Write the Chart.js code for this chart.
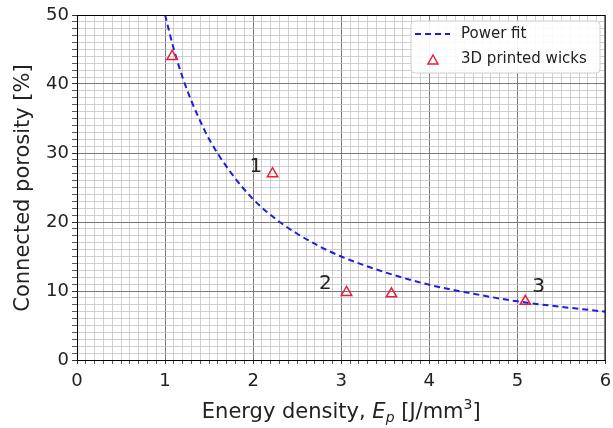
<!DOCTYPE html>
<html lang="en">
<head>
<meta charset="UTF-8">
<title>Connected porosity vs energy density</title>
<script src="https://cdn.jsdelivr.net/npm/chart.js"></script>
<style>
  body { margin: 0; background: #fff; }
  .wrap { position: relative; width: 613px; height: 428px; }
</style>
</head>
<body>
<div class="wrap"><canvas id="chart"></canvas></div>
<script>
// measured wicks
const wickEnergy = [1.08, 2.22, 3.06, 3.57, 5.09];
const wickPorosity = [44.0, 27.0, 9.8, 9.6, 8.5];

// power fit curve
const fitEnergy = [1.0, 1.1, 1.2, 1.3, 1.4, 1.5, 1.75, 2.0, 2.25, 2.5, 2.75, 3.0, 3.5, 4.0, 4.5, 5.0, 5.5, 6.0];
const fitPorosity = [50.0, 45.0, 40.9, 37.5, 34.6, 32.0, 27.1, 23.3, 20.5, 18.3, 16.5, 15.0, 12.7, 10.9, 9.6, 8.5, 7.7, 7.0];

// numbered labels
const noteText = ['1', '2', '3'];
const noteX = [2.03, 2.82, 5.24];
const noteY = [28.0, 11.0, 10.6];

const FONT = '"DejaVu Sans", sans-serif';
const BLUE = '#1e1ee0';
const RED = '#e8203c';

const isMajor = v => Math.abs(v - Math.round(v)) < 1e-6;

const extras = {
  id: 'extras',
  afterDraw(chart) {
    const { ctx, chartArea: a, scales: { x, y } } = chart;
    ctx.save();
    // top/right spines
    ctx.strokeStyle = '#000';
    ctx.lineWidth = 1;
    ctx.strokeRect(a.left + 0.5, a.top + 0.5, a.right - a.left - 1, a.bottom - a.top);

    // numbered labels
    ctx.fillStyle = '#222';
    ctx.font = '20px ' + FONT;
    ctx.textAlign = 'center';
    ctx.textBaseline = 'middle';
    noteText.forEach((t, i) => ctx.fillText(t, x.getPixelForValue(noteX[i]), y.getPixelForValue(noteY[i])));

    // legend box
    const lx = 411, ly = 21, lw = 189, lh = 52;
    ctx.beginPath();
    ctx.roundRect(lx, ly, lw, lh, 4);
    ctx.fillStyle = 'rgba(255,255,255,0.9)';
    ctx.fill();
    ctx.strokeStyle = '#d0d0d0';
    ctx.stroke();
    ctx.strokeStyle = BLUE;
    ctx.lineWidth = 2;
    ctx.setLineDash([6, 4]);
    ctx.beginPath();
    ctx.moveTo(415, 34); ctx.lineTo(450, 34);
    ctx.stroke();
    ctx.setLineDash([]);
    ctx.strokeStyle = RED;
    ctx.lineWidth = 1.5;
    ctx.beginPath();
    ctx.moveTo(433, 55); ctx.lineTo(438, 64); ctx.lineTo(428, 64); ctx.closePath();
    ctx.stroke();
    ctx.fillStyle = '#222';
    ctx.font = '15px ' + FONT;
    ctx.textAlign = 'left';
    ctx.fillText('Power fit', 461, 34);
    ctx.fillText('3D printed wicks', 461, 59);

    // y axis title
    ctx.save();
    ctx.translate(24, 188);
    ctx.rotate(-Math.PI / 2);
    ctx.font = '21px ' + FONT;
    ctx.textAlign = 'center';
    ctx.textBaseline = 'middle';
    ctx.fillText('Connected porosity [%]', 0, 0);
    ctx.restore();

    // x axis title with italic E_p and superscript
    const parts = [
      { t: 'Energy density, ', f: '21px ' + FONT, dy: 0 },
      { t: 'E', f: 'italic 21px ' + FONT, dy: 0 },
      { t: 'p', f: 'italic 14px ' + FONT, dy: 4 },
      { t: ' [J/mm', f: '21px ' + FONT, dy: 0 },
      { t: '3', f: '14px ' + FONT, dy: -9 },
      { t: ']', f: '21px ' + FONT, dy: 0 }
    ];
    let total = 0;
    parts.forEach(p => { ctx.font = p.f; p.w = ctx.measureText(p.t).width; total += p.w; });
    let cx = (a.left + a.right) / 2 - total / 2;
    ctx.textBaseline = 'alphabetic';
    ctx.textAlign = 'left';
    parts.forEach(p => { ctx.font = p.f; ctx.fillText(p.t, cx, 418 + p.dy); cx += p.w; });
    ctx.restore();
  }
};

new Chart(document.getElementById('chart'), {
  type: 'scatter',
  data: {
    datasets: [
      {
        label: '3D printed wicks',
        data: wickEnergy.map((e, i) => ({ x: e, y: wickPorosity[i] })),
        pointStyle: 'triangle',
        pointRadius: 6,
        pointBorderWidth: 1.5,
        borderColor: RED,
        backgroundColor: 'rgba(0,0,0,0)',
        order: 0
      },
      {
        label: 'Power fit',
        data: fitEnergy.map((e, i) => ({ x: e, y: fitPorosity[i] })),
        showLine: true,
        borderColor: BLUE,
        borderWidth: 2,
        borderDash: [6, 4],
        pointRadius: 0,
        cubicInterpolationMode: 'monotone',
        fill: false,
        order: 1
      }
    ]
  },
  plugins: [extras],
  options: {
    responsive: true,
    maintainAspectRatio: false,
    animation: false,
    layout: { padding: { left: 0, right: 5, top: 15, bottom: 0 } },
    plugins: { legend: { display: false }, tooltip: { enabled: false } },
    scales: {
      x: {
        type: 'linear', min: 0, max: 6,
        afterFit: s => { s.height = 68; s.paddingLeft = 0; s.paddingRight = 0; },
        ticks: {
          stepSize: 0.1, autoSkip: false, maxRotation: 0, color: '#222',
          font: { family: FONT, size: 18 }, padding: 7,
          callback: v => isMajor(v) ? Math.round(v) : ''
        },
        grid: {
          color: c => isMajor(c.tick.value) ? '#7a7a7a' : '#c4c4c4',
          lineWidth: c => isMajor(c.tick.value) ? 1 : 0.8,
          tickColor: '#333', tickLength: 4
        },
        border: { color: '#000', width: 1 }
      },
      y: {
        min: 0, max: 50,
        afterFit: s => { s.width = 77; s.paddingTop = 0; s.paddingBottom = 0; },
        ticks: {
          stepSize: 1, autoSkip: false, color: '#222',
          font: { family: FONT, size: 18 }, padding: 3,
          callback: v => v % 10 === 0 ? v : ''
        },
        grid: {
          color: c => c.tick.value % 10 === 0 ? '#7a7a7a' : '#c4c4c4',
          lineWidth: c => c.tick.value % 10 === 0 ? 1 : 0.8,
          tickColor: '#333', tickLength: 5
        },
        border: { color: '#000', width: 1 }
      }
    }
  }
});
</script>
</body>
</html>
